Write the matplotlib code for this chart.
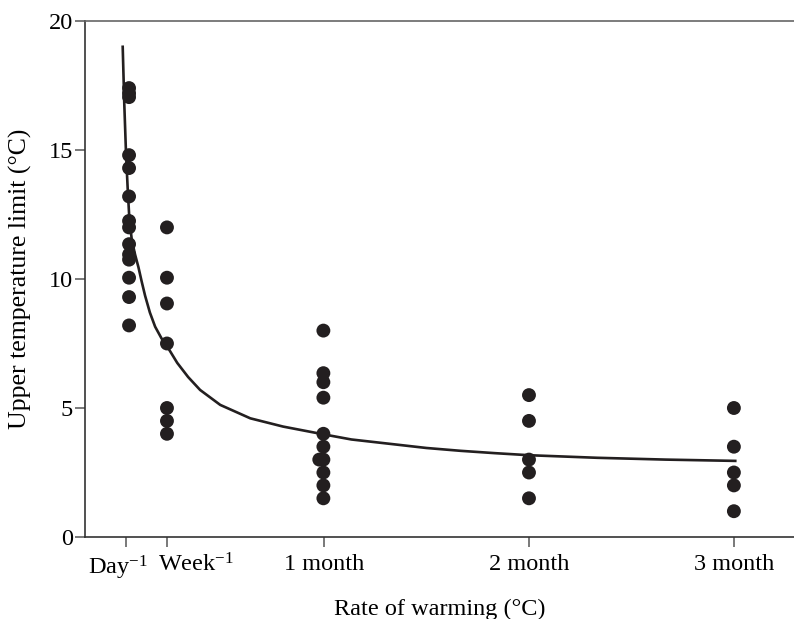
import matplotlib
matplotlib.use("Agg")
import matplotlib.pyplot as plt
import matplotlib.transforms as mtransforms

plt.rcParams['font.family'] = ['Liberation Serif', 'DejaVu Serif']
plt.rcParams['mathtext.default'] = 'regular'

# Tick positions (days) and labels
tick_pos = [1, 7, 30, 60, 90]
tick_labels = ['Day$^{-1}$', 'Week$^{-1}$', '1 month', '2 month', '3 month']

# Observations: x in days, y = upper temperature limit
day_x = [1.45] * 14
day_y = [17.4, 17.2, 17.05, 14.8, 14.3, 13.2, 12.25, 12.0, 11.35, 10.95, 10.75, 10.05, 9.3, 8.2]
week_x = [7] * 7
week_y = [12.0, 10.05, 9.05, 7.5, 5.0, 4.5, 4.0]
m1_x = [29.9, 29.9, 29.9, 29.9, 29.9, 29.9, 29.9, 29.3, 29.9, 29.9, 29.9]
m1_y = [8.0, 6.35, 6.0, 5.4, 4.0, 3.5, 3.0, 3.0, 2.5, 2.0, 1.5]
m2_x = [60] * 5
m2_y = [5.5, 4.5, 3.0, 2.5, 1.5]
m3_x = [90] * 5
m3_y = [5.0, 3.5, 2.5, 2.0, 1.0]

# Fitted curve, points
curve_x = [0.52, 0.75, 1.0, 1.25, 1.5, 1.86, 2.33, 2.83, 3.3, 3.8, 4.5, 5.27, 6.2, 7.0,
           8.5, 10.1, 11.85, 14.8, 19.2, 24.0, 29.9, 34.0, 40, 45, 50, 55, 60, 70, 80, 90.2]
curve_y = [19.0, 16.8, 14.9, 13.5, 12.3, 11.5, 10.95, 10.45, 9.9, 9.35, 8.7, 8.15, 7.7, 7.4,
           6.75, 6.2, 5.7, 5.12, 4.6, 4.28, 3.98, 3.78, 3.6, 3.45, 3.34, 3.25, 3.17, 3.07, 3.0, 2.95]

fig = plt.figure(figsize=(7.94, 6.19), dpi=100)
ax = fig.add_axes([85/794, 1 - 537/619, 1 - 85/794, (537 - 21)/619])

ax.plot(curve_x, curve_y, color='#231f20', lw=1.9, zorder=2, solid_joinstyle='round')
for xs, ys in [(day_x, day_y), (week_x, week_y), (m1_x, m1_y), (m2_x, m2_y), (m3_x, m3_y)]:
    ax.scatter(xs, ys, s=100, color='#231f20', edgecolors='none', zorder=3)

ax.set_xlim(-5, 98.8)
ax.set_ylim(0, 20)
ax.set_xticks(tick_pos)
ax.set_xticklabels(tick_labels, fontsize=17.5)
ax.set_yticks([0, 5, 10, 15, 20])
ax.set_yticklabels(['0', '5', '10', '15', '20'], fontsize=17.5)
ax.tick_params(axis='both', direction='out', length=7, width=1.1, color='#555555')
ax.tick_params(axis='x', pad=5)
ax.tick_params(axis='y', pad=1.5)

# Day / Week labels sit apart from their ticks as in the reference
labs = ax.get_xticklabels()
labs[0].set_horizontalalignment('right')
labs[0].set_transform(labs[0].get_transform() + mtransforms.ScaledTranslation(22/100, 0, fig.dpi_scale_trans))
labs[1].set_horizontalalignment('left')
labs[1].set_transform(labs[1].get_transform() + mtransforms.ScaledTranslation(-9/100, 0, fig.dpi_scale_trans))

ax.spines['right'].set_visible(False)
for s in ['left', 'bottom', 'top']:
    ax.spines[s].set_color('#333333')
    ax.spines[s].set_linewidth(1.2)
ax.spines['top'].set_color('#666666')

ax.set_xlabel('Rate of warming (°C)', fontsize=17.5, labelpad=12)
ax.set_ylabel('Upper temperature limit (°C)', fontsize=18.5, labelpad=12)

fig.savefig('out.png', dpi=100)
